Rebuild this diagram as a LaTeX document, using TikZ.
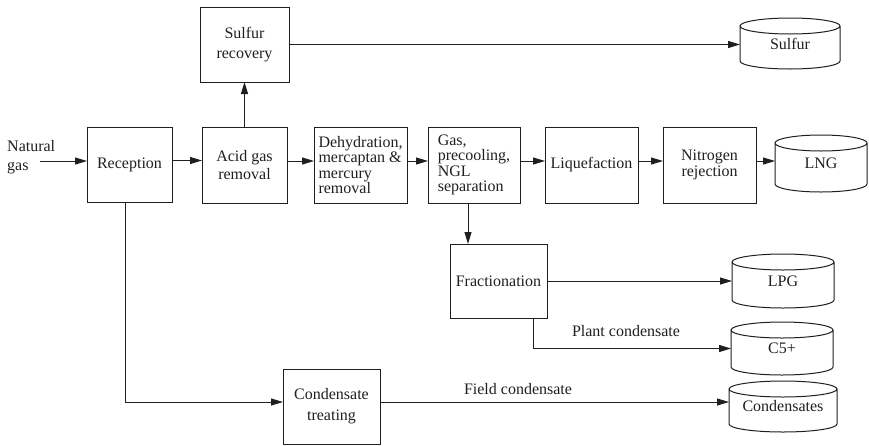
\documentclass[tikz,border=0pt]{standalone}
\usepackage{fontspec}
\setmainfont{Liberation Serif}
\usetikzlibrary{arrows.meta}
\definecolor{ink}{gray}{0.12}
\newcommand\drawtank[2]{%
  \draw[tankline] ([yshift=-8pt]#1.north west) -- ([yshift=8pt]#1.south west)
    arc[start angle=180,end angle=360,x radius=#2pt,y radius=8pt]
    -- ([yshift=-8pt]#1.north east)
    arc[start angle=0,end angle=360,x radius=#2pt,y radius=8pt];}
\begin{document}
\begin{tikzpicture}[x=1pt,y=-1pt,
  box/.style={draw=ink, line width=1pt, inner sep=2pt, outer sep=0pt, align=center,
    minimum height=75pt, text=ink, font=\fontsize{16}{18}\selectfont},
  tank/.style={inner sep=0pt, outer sep=0pt, text=ink, font=\fontsize{16}{18}\selectfont},
  tankline/.style={draw=ink, line width=1pt},
  flow/.style={draw=ink, line width=1pt, -{Triangle[length=12pt,width=7pt]}},
  lbl/.style={text=ink, font=\fontsize{16}{18}\selectfont, inner sep=0pt}]
\useasboundingbox (0,0) rectangle (869,445);
% process boxes
\node[box, minimum width=89pt, font=\fontsize{16}{20}\selectfont] (sr) at (244.5,44.5) {Sulfur\\recovery};
\node[box, minimum width=85pt] (rec) at (129.5,164.5) {Reception};
\node[box, minimum width=85pt, minimum height=76pt] (acid) at (244.5,165) {Acid gas\\removal};
\node[box, minimum width=93pt, minimum height=76pt, align=left, font=\fontsize{16}{15.5}\selectfont] (dehy) at (360.5,165) {Dehydration,\\mercaptan \&\\mercury\\removal};
\node[box, minimum width=92pt, minimum height=76pt, align=left, font=\fontsize{16}{15.5}\selectfont] (gas) at (474,165) {Gas,\\precooling,\\NGL\\separation};
\node[box, minimum width=93pt, minimum height=76pt] (liq) at (591.5,165) {Liquefaction};
\node[box, minimum width=93pt, minimum height=76pt, font=\fontsize{16}{16.5}\selectfont] (nit) at (709.5,165) {Nitrogen\\rejection};
\node[box, minimum width=97pt, minimum height=74pt] (fract) at (498.5,281) {Fractionation};
\node[box, minimum width=97pt, font=\fontsize{16}{21}\selectfont] (cond) at (331.5,406.5) {Condensate\\treating};
% storage tanks
\node[tank, minimum width=100pt, minimum height=51pt] (sulfur) at (790,43.5) {\raisebox{-4pt}{Sulfur}};
\node[tank, minimum width=92pt, minimum height=57pt] (lng) at (821,163.5) {\raisebox{-6pt}{LNG}};
\node[tank, minimum width=102pt, minimum height=54pt] (lpg) at (783,281) {\raisebox{-6pt}{LPG}};
\node[tank, minimum width=102pt, minimum height=53pt] (c5) at (782,348.5) {\raisebox{-6pt}{C5+}};
\node[tank, minimum width=108pt, minimum height=51pt] (conds) at (783,406.5) {\raisebox{-4pt}{Condensates}};
\drawtank{sulfur}{50}
\drawtank{lng}{46}
\drawtank{lpg}{51}
\drawtank{c5}{51}
\drawtank{conds}{54}
% inlet
\node[lbl, align=left, anchor=west, font=\fontsize{16}{19}\selectfont] (ng) at (7,157.5) {Natural\\gas};
\coordinate (ngin) at (40,161);
\draw[flow] (ngin) -- (ngin -| rec.west);
% main train
\draw[flow] ([yshift=4pt]rec.east) -- ([yshift=4pt]rec.east -| acid.west);
\draw[flow] ([yshift=4pt]acid.east) -- ([yshift=4pt]acid.east -| dehy.west);
\draw[flow] ([yshift=4pt]dehy.east) -- ([yshift=4pt]dehy.east -| gas.west);
\draw[flow] ([yshift=4pt]gas.east) -- ([yshift=4pt]gas.east -| liq.west);
\draw[flow] ([yshift=4pt]liq.east) -- ([yshift=4pt]liq.east -| nit.west);
\draw[flow] ([yshift=4pt]nit.east) -- ([yshift=4pt]nit.east -| lng.west);
% sulfur
\draw[flow] (acid.north) -- (acid.north |- sr.south);
\draw[flow] (sr.east) -- (sr.east -| sulfur.west);
% NGL
\draw[flow] ([xshift=-6pt]gas.south) -- ([xshift=-6pt]gas.south |- fract.north);
\draw[flow] (fract.east) -- (fract.east -| lpg.west);
\draw[flow] ([xshift=34.5pt]fract.south) |- (c5.west);
\node[lbl] (plabel) at (626,331) {Plant condensate};
% field condensate
\draw[flow] ([xshift=-4.5pt]rec.south) |- ([yshift=4.5pt]cond.west);
\draw[flow] ([yshift=4.5pt]cond.east) -- ([yshift=4.5pt]cond.east -| conds.west);
\node[lbl] (flabel) at (518,389) {Field condensate};
\end{tikzpicture}
\end{document}
